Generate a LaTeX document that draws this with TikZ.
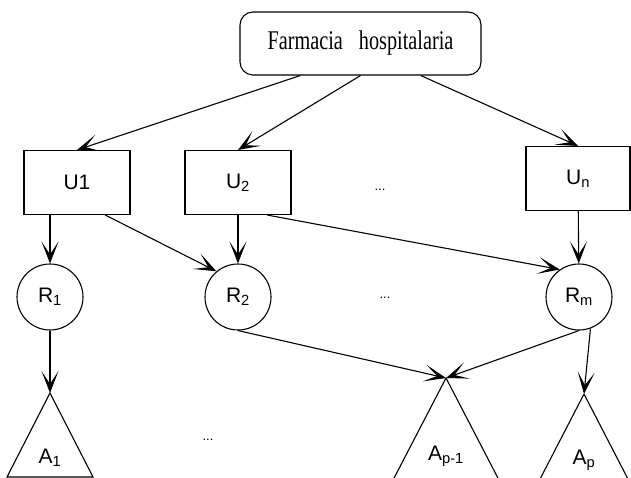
\documentclass[tikz,border=0pt]{standalone}
\usepackage{fontspec}
\setmainfont{Liberation Sans}
\newfontfamily\titlefont[FakeStretch=0.75]{Liberation Serif}
\usetikzlibrary{arrows.meta}

\begin{document}
\begin{tikzpicture}[x=1pt, y=-1pt, line width=1.1pt, >={Stealth[length=22pt, width=17pt, inset=13pt]},
        unit/.style={draw, rectangle, minimum width=106pt, minimum height=64pt, font=\fontsize{21}{23}\selectfont},
        region/.style={draw, circle, minimum size=66pt, inner sep=0pt, font=\fontsize{21}{23}\selectfont},
        lbl/.style={font=\fontsize{21}{23}\selectfont},
        dots/.style={font=\fontsize{13}{15}\selectfont}]
        \useasboundingbox (0,0) rectangle (631,478);
        \clip (0,0) rectangle (631,478);

        % Define vertices
        \node[draw, rounded corners=13pt, minimum width=241pt, minimum height=63pt, font=\titlefont\fontsize{27}{29}\selectfont] (fh) at (360.5,43.5) {Farmacia\hspace{16pt}hospitalaria};
        \node[unit] (u1) at (77,182.5) {U1};
        \node[unit] (u2) at (238,182.5) {U\textsubscript{2}};
        \node[dots] (ud) at (380,190) {...};
        \node[unit, minimum width=104pt] (un) at (578,178.5) {U\textsubscript{n}};

        \node[region] (r1) at (50,297) {R\textsubscript{1}};
        \node[region] (r2) at (238,297) {R\textsubscript{2}};
        \node[dots] (rd) at (385,298) {...};
        \node[region] (rm) at (579,297) {R\textsubscript{m}};

        \coordinate (a1) at (50,393);
        \coordinate (ap1) at (446,378);
        \coordinate (ap) at (584,394);
        \draw (a1) -- (7,477) -- (93,477) -- cycle;
        \draw (ap1) -- ++(-54,104) (ap1) -- ++(54,104);
        \draw (ap) -- ++(-46,89) (ap) -- ++(46,89);
        \node[lbl] (la1) at (50,458) {A\textsubscript{1}};
        \node[dots] (ad) at (208,440) {...};
        \node[lbl] (lap1) at (446,456) {A\textsubscript{p-1}};
        \node[lbl] (lap) at (584,460) {A\textsubscript{p}};

        % Draw edges
        \draw[->] (fh.208) -- (u1.north);
        \draw[->] (fh.south) -- (u2.north);
        \draw[->] (fh.332) -- (un.north);

        \draw[->] (r1 |- u1.south) -- (r1);
        \draw[->] (u1.-49) -- (r2.130);
        \draw[->] (u2) -- (r2);
        \draw[->] (u2.-48) -- (rm.125);
        \draw[->] (un) -- (rm);

        \draw[->] (r1) -- (a1);
        \draw[->] (r2.south) -- (ap1);
        \draw[->] (rm.south) -- (ap1);
        \draw[->] (rm.-70) -- (ap);
\end{tikzpicture}
\end{document}
